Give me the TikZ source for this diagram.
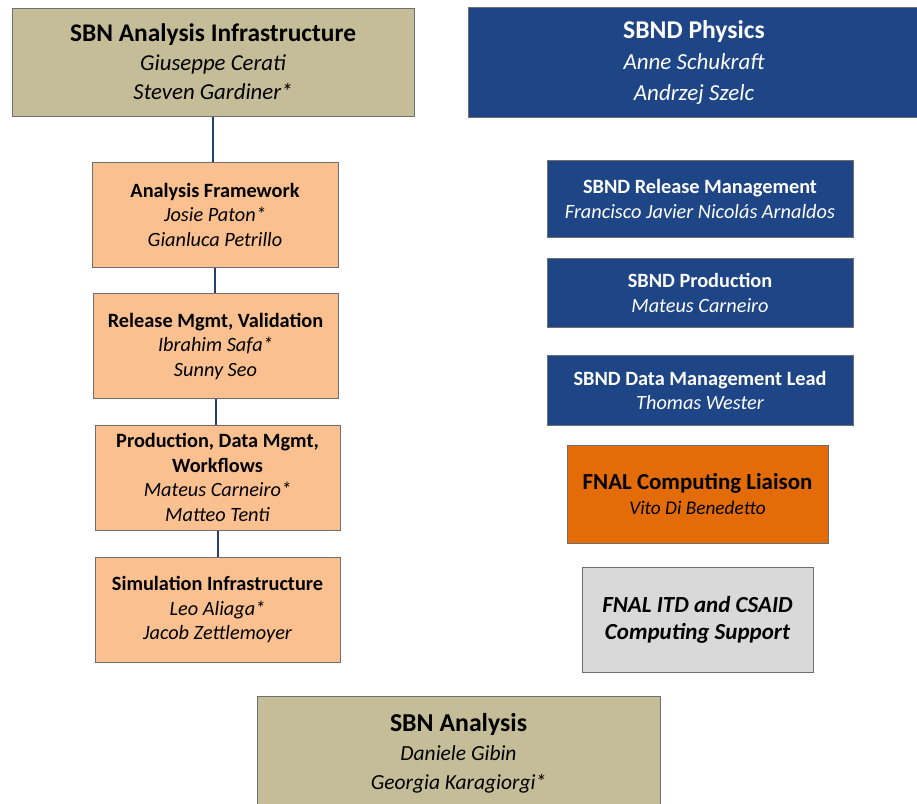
\documentclass[tikz,border=0pt]{standalone}
\usepackage{fontspec}
\setmainfont{Carlito}
\definecolor{tan}{HTML}{C4BD97}
\definecolor{sbndblue}{HTML}{1E4585}
\definecolor{lorange}{HTML}{FAC08F}
\definecolor{dorange}{HTML}{E36C09}
\definecolor{lgray}{HTML}{D9D9D9}
\definecolor{linkcol}{HTML}{24406E}
\definecolor{edgecol}{HTML}{6F6F6F}
\newcommand{\fs}[2]{\fontsize{#1}{#2}\selectfont}
\tikzset{
  orgbox/.style={draw=edgecol, line width=1pt, align=center, inner sep=0pt, rectangle,
    execute at begin node={\rule{0pt}{4pt}\vspace*{-4pt}}},
  tanbox/.style={orgbox, fill=tan, text=black},
  bluebox/.style={orgbox, fill=sbndblue, text=white},
  subbox/.style={orgbox, fill=lorange, text=black, minimum width=245pt, minimum height=105pt},
  sbndsub/.style={orgbox, fill=sbndblue, text=white, minimum width=306pt},
  link/.style={draw=linkcol, line width=2pt}
}
\begin{document}
\begin{tikzpicture}[x=1pt, y=-1pt]
\useasboundingbox (0,0) rectangle (917,803);
\fill[white] (0,0) rectangle (917,803);

\node[tanbox, minimum width=402pt, minimum height=108pt, font=\fs{22.8}{29}] (infra) at (213,62)
  {{\fs{25.4}{29}\bfseries SBN Analysis Infrastructure}\\ \itshape Giuseppe Cerati\\ \itshape Steven Gardiner*};

\node[bluebox, minimum width=452pt, minimum height=110pt, font=\fs{23}{31}] (phys) at (694,62)
  {{\fs{25.6}{31}\bfseries SBND Physics}\\ \itshape Anne Schukraft\\ \itshape Andrzej Szelc};

\node[subbox, minimum width=246pt, font=\fs{20.3}{24.5}] (frame) at (215,214.5)
  {\bfseries Analysis Framework\\ \itshape Josie Paton*\\ \itshape Gianluca Petrillo};
\node[subbox, font=\fs{20.3}{24.5}] (rel) at (215.5,346)
  {\bfseries Release Mgmt, Validation\\ \itshape Ibrahim Safa*\\ \itshape Sunny Seo};
\node[subbox, font=\fs{20.3}{24.5}] (prod) at (217.5,477.5)
  {\bfseries Production, Data Mgmt,\\ \bfseries Workflows\\ \itshape Mateus Carneiro*\\ \itshape Matteo Tenti};
\node[subbox, font=\fs{20.3}{24.5}] (sim) at (217.5,609.5)
  {\bfseries Simulation Infrastructure\\ \itshape Leo Aliaga*\\ \itshape Jacob Zettlemoyer};

\node[sbndsub, minimum height=77pt, font=\fs{20.3}{25}] (srel) at (700,198.5)
  {\bfseries SBND Release Management\\ \itshape Francisco Javier Nicolás Arnaldos};
\node[sbndsub, minimum height=69pt, font=\fs{20.3}{25}] (sprod) at (700,292.5)
  {\bfseries SBND Production\\ \itshape Mateus Carneiro};
\node[sbndsub, minimum height=70pt, font=\fs{20.3}{24}] (sdata) at (700,390)
  {\bfseries SBND Data Management Lead\\ \itshape Thomas Wester};

\node[orgbox, fill=dorange, minimum width=261pt, minimum height=98pt, font=\fs{19.3}{25}] (liaison) at (697.5,494)
  {{\fs{22.9}{25}\bfseries FNAL Computing Liaison}\\ \itshape Vito Di Benedetto};

\node[orgbox, fill=lgray, minimum width=231pt, minimum height=105pt, font=\fs{23}{27}\bfseries\itshape] (itd) at (697.5,619.5)
  {FNAL ITD and CSAID\\ Computing Support};

\node[tanbox, minimum width=403pt, minimum height=114pt, font=\fs{21.5}{29}] (ana) at (458.5,753)
  {{\fs{25.8}{29}\bfseries SBN Analysis}\\ \itshape Daniele Gibin\\ \itshape Georgia Karagiorgi*};

\draw[link] (infra.south) -- (infra.south |- frame.north);
\draw[link] (frame.south) -- (frame.south |- rel.north);
\draw[link] (rel.south) -- (rel.south |- prod.north);
\draw[link] (prod.south) -- (prod.south |- sim.north);
\end{tikzpicture}
\end{document}
